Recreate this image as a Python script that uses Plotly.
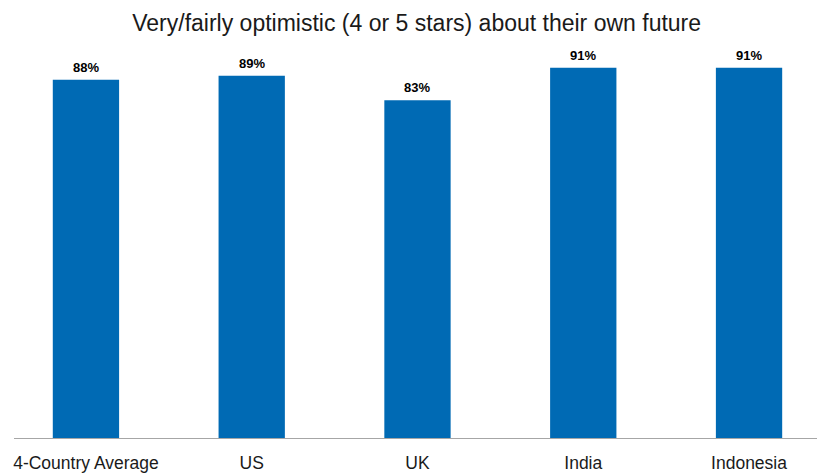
import plotly.graph_objects as go

categories = ["4-Country Average", "US", "UK", "India", "Indonesia"]
values = [88, 89, 83, 91, 91]
labels = ["88%", "89%", "83%", "91%", "91%"]

FONT = "Liberation Sans, Arial, sans-serif"

fig = go.Figure()
fig.add_trace(go.Bar(
    x=list(range(len(categories))),
    y=values,
    width=0.4,
    marker=dict(color="#006AB4", line=dict(width=0)),
    hoverinfo="skip",
))

for i, (v, t) in enumerate(zip(values, labels)):
    fig.add_annotation(x=i, y=v, text="<b>%s</b>" % t, showarrow=False,
                       yanchor="bottom", yshift=3,
                       font=dict(family=FONT, size=13, color="#000000"))

fig.update_layout(
    width=817, height=473,
    margin=dict(l=14, r=0, t=31, b=33),
    paper_bgcolor="white", plot_bgcolor="white",
    title=dict(text="Very/fairly optimistic (4 or 5 stars) about their own future",
               x=0.51, xanchor="center", y=0.951, yanchor="middle",
               font=dict(family=FONT, size=23, color="#1a1a1a")),
    xaxis=dict(
        range=[-0.434, 4.41],
        tickmode="array",
        tickvals=list(range(len(categories))),
        ticktext=categories,
        showgrid=False, zeroline=False,
        showline=True, linecolor="#a6a6a6", linewidth=1,
        ticks="", ticklabelstandoff=9,
        tickfont=dict(family=FONT, size=17.5, color="#1a1a1a"),
    ),
    yaxis=dict(range=[0, 100], visible=False),
    showlegend=False,
)

fig.write_html("out.html")
